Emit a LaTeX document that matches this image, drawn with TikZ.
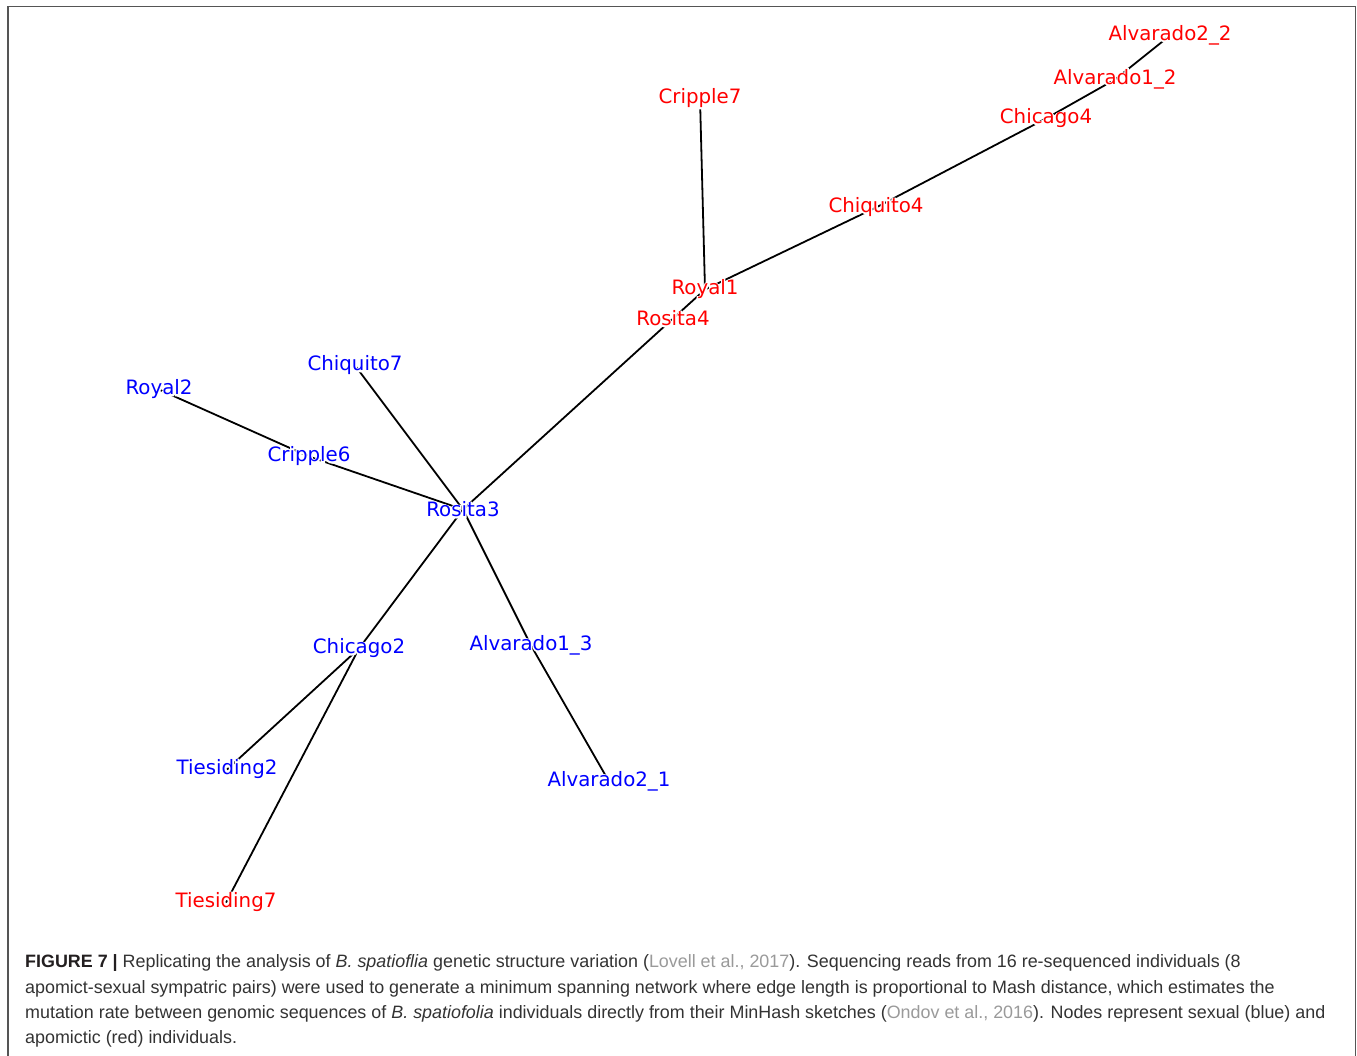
\documentclass[tikz,border=0pt]{standalone}
\usepackage{fontspec}
\setmainfont{Liberation Sans}
\newfontfamily\labelfont{DejaVu Sans}
\newfontfamily\halofont[FakeBold=14]{DejaVu Sans}
\usetikzlibrary{backgrounds}
\definecolor{frame}{HTML}{555555}
\definecolor{captxt}{HTML}{333333}
\definecolor{capbold}{HTML}{231F20}
\definecolor{cite}{HTML}{9A9A9A}
\definecolor{sexual}{HTML}{0000FF}
\definecolor{apomict}{HTML}{FF0000}
\tikzset{
  lbl/.style={inner sep=0pt, yshift=-1.5pt, font=\labelfont\fontsize{19.8}{24}\selectfont},
  sex/.style={lbl, text=sexual},
  apo/.style={lbl, text=apomict},
  edge/.style={draw=black, line width=1.8pt},
  capline/.style={anchor=base west, inner sep=0pt, text=captxt, font=\fontsize{17.9}{21}\selectfont},
}
\newcommand{\halo}[1]{\rlap{\halofont\color{white}#1}#1}
\begin{document}
\begin{tikzpicture}[x=1pt,y=-1pt]
\useasboundingbox (0,0) rectangle (1357,1056);

% nodes
\node[apo] (A22) at (1170,34) {\halo{Alvarado2\_2}};
\node[apo] (A12) at (1115,78) {\halo{Alvarado1\_2}};
\node[apo] (Chg4) at (1046,117) {\halo{Chicago4}};
\node[apo] (Chq4) at (876,206) {\halo{Chiquito4}};
\node[apo] (Cr7) at (700,97) {\halo{Cripple7}};
\node[apo] (Ro1) at (705,288) {\halo{Royal1}};
\node[apo] (Rs4) at (673,317) {\halo{Rosita4}};
\node[sex] (Chq7) at (355,364) {\halo{Chiquito7}};
\node[sex] (Ro2) at (159,388) {\halo{Royal2}};
\node[sex] (Cr6) at (309,455) {\halo{Cripple6}};
\node[sex] (Rs3) at (463,508) {\halo{Rosita3}};
\node[sex] (Chg2) at (359,647) {\halo{Chicago2}};
\node[sex] (A13) at (531,644) {\halo{Alvarado1\_3}};
\node[sex] (Ti2) at (227,768) {\halo{Tiesiding2}};
\node[sex] (A21) at (609,780) {\halo{Alvarado2\_1}};
\node[apo] (Ti7) at (226,901) {\halo{Tiesiding7}};

\begin{scope}[on background layer]
\fill[white] (0,0) rectangle (1357,1056);
\draw[frame, line width=1.5pt] (8,1070) -- (8,6.5) -- (1355.5,6.5) -- (1355.5,1070);
\path[edge] (A22.center) -- (A12.center);
\path[edge] (A12.center) -- (Chg4.center);
\path[edge] (Chg4.center) -- (Chq4.center);
\path[edge] (Chq4.center) -- (Ro1.center);
\path[edge] (Ro1.center) -- (Cr7.center);
\path[edge] (Ro1.center) -- (Rs4.center);
\path[edge] (Rs4.center) -- (Rs3.center);
\path[edge] (Rs3.center) -- (Chq7.center);
\path[edge] (Rs3.center) -- (Cr6.center);
\path[edge] (Cr6.center) -- (Ro2.center);
\path[edge] (Rs3.center) -- (Chg2.center);
\path[edge] (Rs3.center) -- (A13.center);
\path[edge] (A13.center) -- (A21.center);
\path[edge] (Chg2.center) -- (Ti2.center);
\path[edge] (Chg2.center) -- (Ti7.center);
\end{scope}

% caption
\node[capline] (cap1) at (25,967) {{\bfseries\color{capbold}FIGURE 7 |} Replicating the analysis of \textit{B. spatioflia} genetic structure variation (\textcolor{cite}{Lovell et al., 2017}). Sequencing reads from 16 re-sequenced individuals (8};
\node[capline] (cap2) at (25,993) {apomict-sexual sympatric pairs) were used to generate a minimum spanning network where edge length is proportional to Mash distance, which estimates the};
\node[capline] (cap3) at (25,1018) {mutation rate between genomic sequences of \textit{B. spatiofolia} individuals directly from their MinHash sketches (\textcolor{cite}{Ondov et al., 2016}). Nodes represent sexual (blue) and};
\node[capline] (cap4) at (25,1043) {apomictic (red) individuals.};
\end{tikzpicture}
\end{document}
